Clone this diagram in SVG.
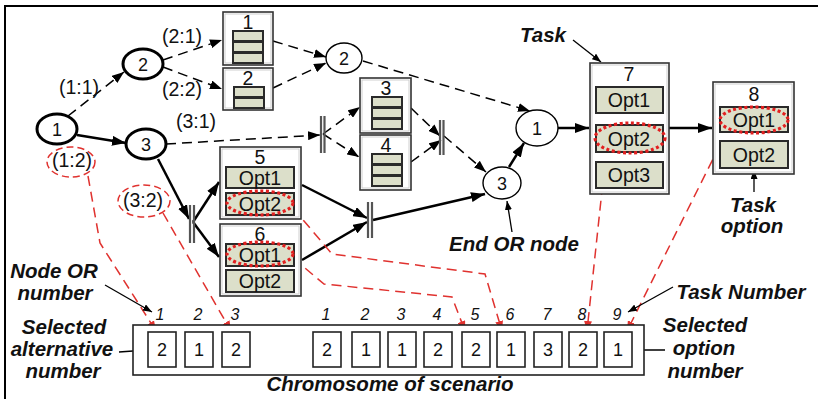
<svg xmlns="http://www.w3.org/2000/svg" width="818" height="399" viewBox="0 0 818 399">
  <style>
    .t { font-family: "Liberation Sans", Arial, sans-serif; fill: #111; text-anchor: middle; }
    .lbl { font-size: 19.5px; }
    .num { font-size: 18px; }
    .opt { font-size: 19.5px; }
    .ann { font-size: 20.5px; font-weight: bold; font-style: italic; }
    .idx { font-size: 16px; font-style: italic; }
    .orb { fill: #fff; stroke: #000; stroke-width: 3; }
    .orn { fill: #fff; stroke: #000; stroke-width: 1.4; }
    .task { fill: #fff; stroke: #333; stroke-width: 1.6; }
    .taskin { fill: none; stroke: #c4c4c4; stroke-width: 0.8; }
    .box { fill: #dcdfca; stroke: #2a2a2a; stroke-width: 2; }
    .bar { stroke: #555; stroke-width: 2.2; }
    .dash { fill: none; stroke: #000; stroke-width: 1.5; stroke-dasharray: 10 6; marker-end: url(#ah); }
    .solid { fill: none; stroke: #000; stroke-width: 2.5; marker-end: url(#ahb); }
    .thin { fill: none; stroke: #000; stroke-width: 1.3; marker-end: url(#ahs); }
    .red { fill: none; stroke: #e0322f; stroke-width: 1.5; stroke-dasharray: 10 6; marker-end: url(#ahr); }
    .redo { fill: none; stroke: #e0322f; stroke-width: 1.5; stroke-dasharray: 7 4; }
    .dot { fill: none; stroke: #e21f1f; stroke-width: 3.2; stroke-dasharray: 3 2.6; }
    .cell { fill: #fff; stroke: #222; stroke-width: 1.6; }
  </style>
  <defs>
    <marker id="ah" markerWidth="12" markerHeight="9" refX="12" refY="4.5" orient="auto" markerUnits="userSpaceOnUse">
      <path d="M0,0 L12,4.5 L0,9 z" fill="#000" stroke="none"/>
    </marker>
    <marker id="ahb" markerWidth="14" markerHeight="10" refX="14" refY="5" orient="auto" markerUnits="userSpaceOnUse">
      <path d="M0,0 L14,5 L0,10 z" fill="#000" stroke="none"/>
    </marker>
    <marker id="ahs" markerWidth="9" markerHeight="7" refX="9" refY="3.5" orient="auto" markerUnits="userSpaceOnUse">
      <path d="M0,0 L9,3.5 L0,7 z" fill="#000" stroke="none"/>
    </marker>
    <marker id="ahr" markerWidth="10" markerHeight="8" refX="10" refY="4" orient="auto" markerUnits="userSpaceOnUse">
      <path d="M0,0 L10,4 L0,8 z" fill="#e0322f" stroke="none"/>
    </marker>
  </defs>

  <rect width="818" height="399" fill="#fff"/>
  <!-- frame -->
  <path d="M5,399 V6 H818" fill="none" stroke="#000" stroke-width="2"/>

  <!-- connectors -->
  <g id="connectors">
    <line class="dash" x1="68" y1="116" x2="124" y2="72"/>
    <line class="solid" x1="77" y1="135" x2="126" y2="143"/>
    <line class="dash" x1="163" y1="60" x2="222" y2="40"/>
    <line class="dash" x1="163" y1="67" x2="222" y2="89"/>
    <line class="dash" x1="273" y1="41" x2="326" y2="57"/>
    <line class="dash" x1="273" y1="88" x2="326" y2="63"/>
    <line class="dash" x1="363" y1="61" x2="530" y2="111"/>
    <line class="dash" x1="166" y1="144" x2="320" y2="135"/>
    <line class="dash" x1="323" y1="134" x2="360" y2="107"/>
    <line class="dash" x1="323" y1="134" x2="359" y2="157"/>
    <line class="dash" x1="411" y1="108" x2="440" y2="136"/>
    <line class="dash" x1="411" y1="162" x2="441" y2="140"/>
    <line class="dash" x1="444" y1="136" x2="486" y2="172"/>
    <line class="solid" x1="509" y1="167" x2="524" y2="143"/>
    <line class="solid" x1="558" y1="128" x2="589" y2="128"/>
    <line class="solid" x1="669" y1="128" x2="712" y2="128"/>
    <line class="solid" x1="158" y1="159" x2="189" y2="219"/>
    <line class="solid" x1="193" y1="222" x2="219" y2="182"/>
    <line class="solid" x1="193" y1="222" x2="219" y2="257"/>
    <line class="solid" x1="302" y1="185" x2="367" y2="218"/>
    <line class="solid" x1="302" y1="260" x2="367" y2="222"/>
    <line class="solid" x1="373" y1="220" x2="485" y2="194"/>
    <!-- red selection links -->
    <polyline class="red" points="88,176 100,243 156,331"/>
    <line class="red" x1="163" y1="213" x2="231" y2="331"/>
    <polyline class="red" points="293,208 332,254 485,274 502,331"/>
    <polyline class="red" points="293,258 324,284 452,297 465,331"/>
    <line class="red" x1="606" y1="153" x2="587" y2="331"/>
    <line class="red" x1="727" y1="131" x2="627" y2="331"/>
    <!-- annotation arrows -->
    <line class="thin" x1="573" y1="40" x2="601" y2="62"/>
    <line class="thin" x1="512" y1="232" x2="507" y2="201"/>
    <line class="thin" x1="754" y1="192" x2="754" y2="170"/>
    <line class="thin" x1="105" y1="285" x2="152" y2="312"/>
    <line class="thin" x1="119" y1="352" x2="147" y2="350"/>
    <line class="thin" x1="673" y1="287" x2="628" y2="312"/>
    <line class="thin" x1="665" y1="350" x2="630" y2="350"/>
  </g>

  <!-- alternative labels -->
  <g id="alt-labels" class="t lbl">
    <text x="79" y="94">(1:1)</text>
    <text x="182" y="43">(2:1)</text>
    <text x="182" y="96">(2:2)</text>
    <text x="196" y="128">(3:1)</text>
    <text x="72" y="167">(1:2)</text>
    <text x="143" y="207">(3:2)</text>
  </g>
  <ellipse class="redo" cx="71" cy="162" rx="24" ry="15"/>
  <ellipse class="redo" cx="144" cy="201" rx="26" ry="16"/>

  <!-- OR nodes -->
  <g id="or1"><ellipse class="orb" cx="57" cy="129" rx="20" ry="15"/><text class="t num" x="57" y="135.5">1</text></g>
  <g id="or2"><ellipse class="orb" cx="143" cy="64" rx="20" ry="15"/><text class="t num" x="143" y="70.5">2</text></g>
  <g id="or3"><ellipse class="orb" cx="146" cy="144" rx="20" ry="15"/><text class="t num" x="146" y="150.5">3</text></g>
  <g id="or2-end"><ellipse class="orn" cx="344" cy="58" rx="18" ry="15"/><text class="t num" x="344" y="64.5">2</text></g>
  <g id="or1-end"><ellipse class="orn" cx="537" cy="128" rx="21" ry="18"/><text class="t num" x="537" y="134.5">1</text></g>
  <g id="or3-end"><ellipse class="orn" cx="502" cy="183" rx="19" ry="16"/><text class="t num" x="502" y="189.5">3</text></g>

  <!-- AND bars -->
  <g id="barA"><line class="bar" x1="190" y1="205" x2="190" y2="243"/><line class="bar" x1="194" y1="205" x2="194" y2="243"/></g>
  <g id="barB"><line class="bar" x1="368" y1="202" x2="368" y2="238"/><line class="bar" x1="372" y1="202" x2="372" y2="238"/></g>
  <g id="barC"><line class="bar" x1="321" y1="116" x2="321" y2="153"/><line class="bar" x1="324.5" y1="116" x2="324.5" y2="153"/></g>
  <g id="barD"><line class="bar" x1="440" y1="120" x2="440" y2="155"/><line class="bar" x1="443.5" y1="120" x2="443.5" y2="155"/></g>

  <!-- tasks -->
  <g id="task1">
    <rect class="task" x="223" y="12" width="50" height="53"/><rect class="taskin" x="225" y="14" width="46" height="49"/>
    <text class="t lbl" x="248" y="29">1</text>
    <rect class="box" x="233" y="31" width="30" height="10"/><rect class="box" x="233" y="42" width="30" height="10"/><rect class="box" x="233" y="53" width="30" height="10"/>
  </g>
  <g id="task2">
    <rect class="task" x="223" y="68" width="50" height="42"/><rect class="taskin" x="225" y="70" width="46" height="38"/>
    <text class="t lbl" x="248" y="85">2</text>
    <rect class="box" x="234" y="87" width="30" height="10"/><rect class="box" x="234" y="98" width="30" height="10"/>
  </g>
  <g id="task3">
    <rect class="task" x="360" y="78" width="51" height="55"/><rect class="taskin" x="362" y="80" width="47" height="51"/>
    <text class="t lbl" x="386" y="95">3</text>
    <rect class="box" x="372" y="97" width="30" height="10"/><rect class="box" x="372" y="108" width="30" height="10"/><rect class="box" x="372" y="119" width="30" height="10"/>
  </g>
  <g id="task4">
    <rect class="task" x="360" y="135" width="51" height="55"/><rect class="taskin" x="362" y="137" width="47" height="51"/>
    <text class="t lbl" x="386" y="152">4</text>
    <rect class="box" x="372" y="154" width="30" height="10"/><rect class="box" x="372" y="165" width="30" height="10"/><rect class="box" x="372" y="176" width="30" height="10"/>
  </g>
  <g id="task5">
    <rect class="task" x="220" y="147" width="81" height="72"/><rect class="taskin" x="222" y="149" width="77" height="68"/>
    <text class="t lbl" x="260" y="164">5</text>
    <rect class="box" x="226" y="167" width="68" height="21"/><text class="t opt" x="260" y="184.5">Opt1</text>
    <rect class="box" x="226" y="193" width="68" height="22"/><text class="t opt" x="260" y="210.5">Opt2</text>
    <ellipse class="dot" cx="260" cy="203" rx="33" ry="12"/>
  </g>
  <g id="task6">
    <rect class="task" x="220" y="224" width="81" height="72"/><rect class="taskin" x="222" y="226" width="77" height="68"/>
    <text class="t lbl" x="260" y="241">6</text>
    <rect class="box" x="226" y="244" width="68" height="22"/><text class="t opt" x="260" y="261.5">Opt1</text>
    <rect class="box" x="226" y="270" width="68" height="22"/><text class="t opt" x="260" y="287.5">Opt2</text>
    <ellipse class="dot" cx="260" cy="254" rx="33" ry="12"/>
  </g>
  <g id="task7">
    <rect class="task" x="590" y="63" width="79" height="131"/><rect class="taskin" x="592" y="65" width="75" height="127"/>
    <text class="t lbl" x="629" y="81">7</text>
    <rect class="box" x="596" y="87" width="67" height="26"/><text class="t opt" x="629" y="107">Opt1</text>
    <rect class="box" x="596" y="125" width="67" height="27"/><text class="t opt" x="629" y="145.5">Opt2</text>
    <rect class="box" x="596" y="162" width="67" height="26"/><text class="t opt" x="629" y="182">Opt3</text>
    <ellipse class="dot" cx="630" cy="138" rx="35" ry="15"/>
  </g>
  <g id="task8">
    <rect class="task" x="713" y="82" width="81" height="92"/><rect class="taskin" x="715" y="84" width="77" height="88"/>
    <text class="t lbl" x="754" y="101">8</text>
    <rect class="box" x="720" y="107" width="68" height="25"/><text class="t opt" x="754" y="126.5">Opt1</text>
    <rect class="box" x="720" y="141" width="68" height="27"/><text class="t opt" x="754" y="161.5">Opt2</text>
    <ellipse class="dot" cx="754" cy="120" rx="34" ry="13"/>
  </g>

  <!-- chromosome -->
  <g id="chromosome">
    <rect x="133" y="325" width="511" height="50" fill="#fff" stroke="#222" stroke-width="1.6"/>
    <g class="t idx">
      <text x="160" y="320">1</text><text x="198" y="320">2</text><text x="235" y="320">3</text>
      <text x="326" y="320">1</text><text x="365" y="320">2</text><text x="401" y="320">3</text>
      <text x="437" y="320">4</text><text x="475" y="320">5</text><text x="510" y="320">6</text>
      <text x="547" y="320">7</text><text x="582" y="320">8</text><text x="617" y="320">9</text>
    </g>
    <rect class="cell" x="148" y="332" width="28" height="35"/><rect class="cell" x="185" y="332" width="28" height="35"/><rect class="cell" x="222" y="332" width="28" height="35"/>
    <rect class="cell" x="313" y="332" width="28" height="35"/><rect class="cell" x="352" y="332" width="28" height="35"/><rect class="cell" x="388" y="332" width="28" height="35"/>
    <rect class="cell" x="424" y="332" width="28" height="35"/><rect class="cell" x="462" y="332" width="28" height="35"/><rect class="cell" x="497" y="332" width="28" height="35"/>
    <rect class="cell" x="534" y="332" width="28" height="35"/><rect class="cell" x="569" y="332" width="28" height="35"/><rect class="cell" x="604" y="332" width="28" height="35"/>
    <g class="t num">
      <text x="162" y="356">2</text><text x="199" y="356">1</text><text x="236" y="356">2</text>
      <text x="327" y="356">2</text><text x="366" y="356">1</text><text x="402" y="356">1</text>
      <text x="438" y="356">2</text><text x="476" y="356">2</text><text x="511" y="356">1</text>
      <text x="548" y="356">3</text><text x="583" y="356">2</text><text x="618" y="356">1</text>
    </g>
    <text class="t ann" x="390" y="391">Chromosome of scenario</text>
  </g>

  <!-- annotations -->
  <g id="annotations" class="t ann">
    <text x="543" y="42">Task</text>
    <text x="514" y="251">End OR node</text>
    <text x="753" y="212">Task</text>
    <text x="752" y="233">option</text>
    <text x="54" y="278">Node OR</text>
    <text x="55" y="300">number</text>
    <text x="64" y="334">Selected</text>
    <text x="62" y="356">alternative</text>
    <text x="63" y="378">number</text>
    <text x="741" y="299">Task Number</text>
    <text x="705" y="332">Selected</text>
    <text x="704" y="355">option</text>
    <text x="705" y="378">number</text>
  </g>
</svg>
